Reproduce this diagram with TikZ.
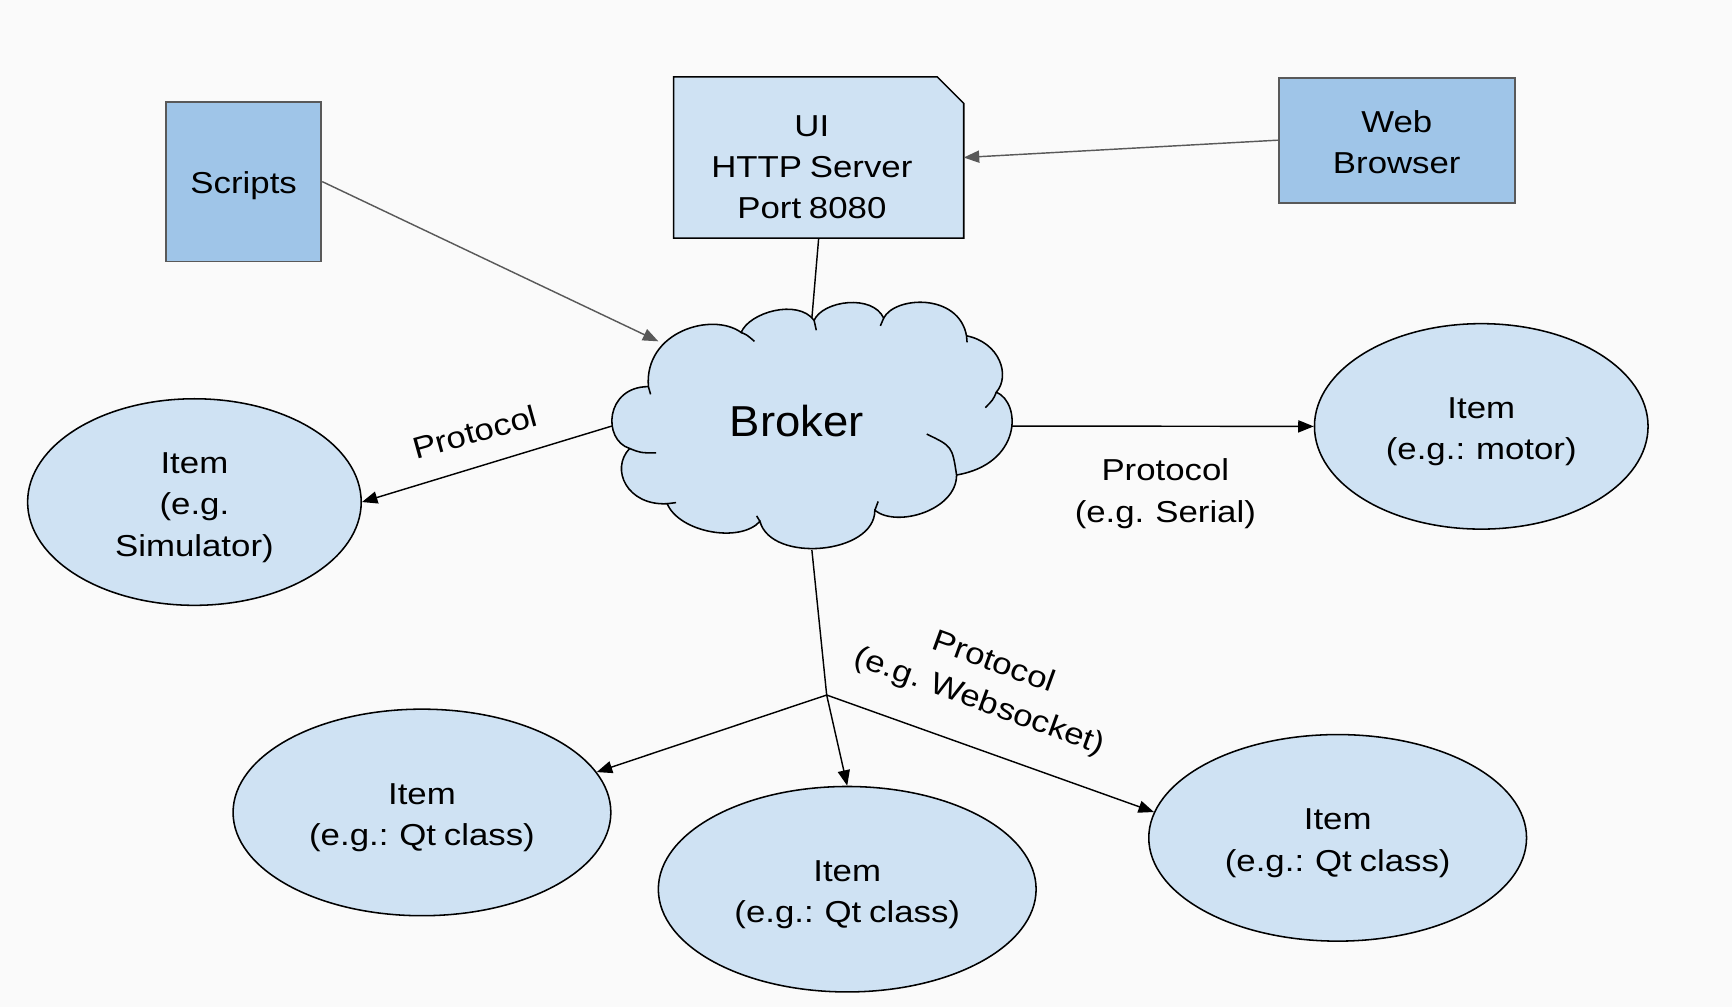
\documentclass[tikz,border=0pt]{standalone}
\usepackage{fontspec}
\setmainfont{Liberation Sans}
\newfontfamily\txtfont{Liberation Sans}[FakeStretch=1.15,WordSpace=0.8]
\newfontfamily\brkfont{Liberation Sans}[FakeStretch=1.05]
\usetikzlibrary{shapes.geometric,arrows.meta}
\definecolor{lightblue}{HTML}{CFE2F3}
\definecolor{midblue}{HTML}{9FC5E8}
\definecolor{greyline}{HTML}{595959}
\definecolor{paper}{HTML}{FAFAFA}
\begin{document}
\begin{tikzpicture}[x=0.5pt,y=-0.5pt,
  every node/.style={font=\txtfont\fontsize{13.7}{18.7}\selectfont, align=center, text=black},
  darkbox/.style={draw=greyline, line width=0.8pt, fill=midblue, inner sep=0pt},
  item/.style={ellipse, draw=black, line width=0.7pt, fill=lightblue, inner sep=0pt},
  arr/.style={-{Triangle[length=7pt,width=5.5pt]}, line width=0.65pt},
  plain/.style={line width=0.65pt},
  cloudline/.style={line width=0.7pt, draw=black},
  lbl/.style={inner sep=0pt},
  txt/.style={inner sep=0pt},
]
% background / bounding box
\path[fill=paper] (0,0) rectangle (1568,911.6);

% Scripts and Web Browser boxes
\node[darkbox, minimum width=70.3pt, minimum height=72.25pt] (scripts) at (220.6,164.4) {};
\node[txt] (scripts-t) at (220.6,168.4) {Scripts};
\node[darkbox, minimum width=106.95pt, minimum height=56.6pt] (web) at (1264.5,126.9) {};
\node[txt] (web-t) at (1264.5,128.4) {Web\\Browser};

% UI box with cut corner
\node[inner sep=0pt, minimum width=130.95pt, minimum height=72.6pt] (ui) at (741.15,142.6) {};
\filldraw[fill=lightblue, draw=black, line width=0.7pt]
  (ui.south west) -- (ui.north west) -- ([xshift=-12pt]ui.north east)
  -- ([yshift=-12pt]ui.north east) -- (ui.south east) -- cycle;
\node[txt] (ui-t) at (735,151.5) {UI\\HTTP Server\\Port 8080};

% Cloud (Broker)
\filldraw[fill=lightblue, cloudline]
  (587,350) .. controls (583,300) and (645,282) .. (671,301)
  .. controls (678,283) and (722,270) .. (737,290)
  .. controls (745,272) and (790,266) .. (800,288)
  .. controls (810,268) and (868,265) .. (875,304)
  .. controls (905,310) and (915,340) .. (902,355)
  .. controls (925,365) and (925,420) .. (866,430)
  .. controls (866,462) and (812,478) .. (792,462)
  .. controls (792,502) and (698,510) .. (688,472)
  .. controls (670,492) and (615,482) .. (604,456)
  .. controls (568,458) and (552,425) .. (570,406)
  .. controls (545,398) and (548,350) .. (587,350) -- cycle;
\draw[cloudline] (587,350) -- (589,357);
\draw[cloudline] (671,301) .. controls (676,303) .. (683,309);
\draw[cloudline] (737,290) -- (739,299);
\draw[cloudline] (800,288) -- (797,295);
\draw[cloudline] (875,304) -- (875.5,310);
\draw[cloudline] (902,355) .. controls (899,362) .. (892,369);
\draw[cloudline] (866,430) .. controls (862,404) .. (839,393);
\draw[cloudline] (792,462) -- (795,454);
\draw[cloudline] (688,472) -- (685,467);
\draw[cloudline] (604,456) -- (612,455);
\draw[cloudline] (570,406) .. controls (580,410) .. (594,410);
\node (broker) at (721.4,381.2) {\brkfont\fontsize{19.6}{23}\selectfont Broker};

% cloud attachment points
\coordinate (cl-w) at (553.9,385.7);
\coordinate (cl-e) at (916,385.7);
\coordinate (cl-n) at (735,288);
\coordinate (cl-s) at (735,497.9);
\coordinate (cl-nw) at (596,309);
\coordinate (junc) at (748.4,629.2);

% Items
\node[item, minimum width=151pt, minimum height=93.5pt] (sim) at (176,454.5) {};
\node[txt] (sim-t) at (176,459.5) {Item\\(e.g.\\Simulator)};
\node[item, minimum width=151pt, minimum height=93pt] (motor) at (1341,386) {};
\node[txt] (motor-t) at (1341,391) {Item\\(e.g.: motor)};
\node[item, minimum width=171pt, minimum height=93.5pt] (qt1) at (382,735.5) {};
\node[txt] (qt1-t) at (382,740.5) {Item\\(e.g.: Qt class)};
\node[item, minimum width=171pt, minimum height=93pt] (qt2) at (767,805) {};
\node[txt] (qt2-t) at (767,810) {Item\\(e.g.: Qt class)};
\node[item, minimum width=171pt, minimum height=93.5pt] (qt3) at (1211,758.5) {};
\node[txt] (qt3-t) at (1211,763.5) {Item\\(e.g.: Qt class)};

% Connectors
\draw[arr, draw=greyline] (scripts.east) -- (cl-nw);
\draw[arr, draw=greyline] (web.west) -- (ui.east);
\draw[plain] (ui.south) -- (cl-n);
\draw[arr] (cl-w) -- (sim.east);
\draw[arr] (cl-e) -- (motor.west);
\draw[plain] (cl-s) -- (junc);
\draw[arr] (junc) -- (qt1.13.4);
\draw[arr] (junc) -- (qt2.north);
\draw[arr] (junc) -- (qt3.172.1);

% Labels
\node[lbl, rotate=15.5] (plbl1) at (430,391) {Protocol};
\node[lbl] (plbl2) at (1055,447) {Protocol\\(e.g. Serial)};
\node[lbl, rotate=-20] (plbl3) at (893,618) {Protocol\\(e.g. Websocket)};
\end{tikzpicture}
\end{document}
